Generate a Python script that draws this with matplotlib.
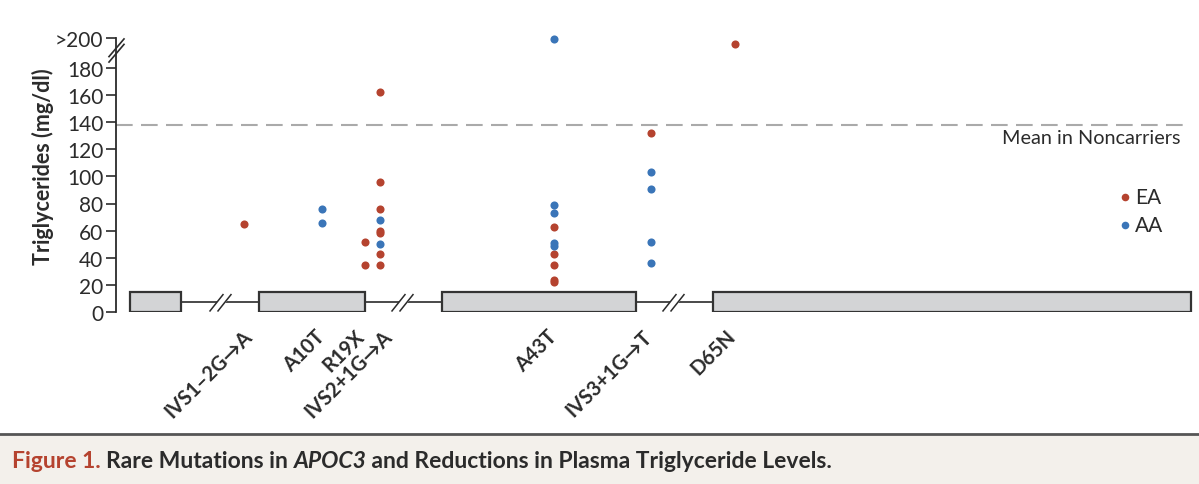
import matplotlib.pyplot as plt
from matplotlib.patches import Rectangle, Polygon

# mutations along the APOC3 gene drawing
mutations = ["IVS1–2G→A", "A10T", "R19X", "IVS2+1G→A", "A43T", "IVS3+1G→T", "D65N"]
mut_pos = [244, 322, 365, 380, 554, 651, 735]
label_pos = [256, 329, 368, 396, 561, 656, 739]
ea_values = [[65], [], [52, 35], [162, 96, 76, 60, 58, 43, 35],
             [63, 43, 35, 24, 22], [132], [197]]
aa_values = [[], [76, 66], [], [68, 50], [201, 79, 73, 51, 49],
             [103, 91, 52, 36], []]
exons = [(130, 181), (259, 365), (442, 636), (713, 1191)]
intron_breaks = [221, 403, 674]
mean_noncarriers = 138
yticks = [0, 20, 40, 60, 80, 100, 120, 140, 160, 180, 202]
ytick_labels = ["0", "20", "40", "60", "80", "100", "120", "140", "160", "180", ">200"]

RED = "#b5432f"
BLUE = "#3a75b8"
DARK = "#2b2b2b"
FONT = "Lato"

fig = plt.figure(figsize=(11.99, 4.85), dpi=100)
ax = fig.add_axes([116 / 1199, 171.7 / 485, 1 - 116 / 1199, 292.4 / 485])
ax.set_xlim(116, 1199)
ax.set_ylim(0, 215)
ax.patch.set_alpha(0)

for s in ["top", "right", "bottom"]:
    ax.spines[s].set_visible(False)
ax.spines["left"].set_bounds(0, 202)
ax.spines["left"].set_color(DARK)
ax.spines["left"].set_linewidth(1.3)
ax.set_xticks([])
ax.set_yticks(yticks)
ax.set_yticklabels(ytick_labels, fontsize=15, family=FONT, color=DARK)
ax.tick_params(axis="y", direction="out", length=7, width=1.2, color=DARK, pad=2)

# y axis break
for dy in (0, -4):
    ax.plot([109, 124], [188 + dy, 201 + dy], color=DARK, lw=1.2, clip_on=False, zorder=5)

ax.set_ylabel("Triglycerides (mg/dl)", fontsize=15.5, family=FONT, weight="bold",
              color=DARK, labelpad=1)

# gene structure: introns then exons
ax.plot([exons[0][0], exons[-1][1]], [7.5, 7.5], color=DARK, lw=1.2, zorder=1)
for c in intron_breaks:
    ax.add_patch(Polygon([(c - 11, 1), (c + 2, 13), (c + 11, 13), (c - 2, 1)],
                         closed=True, facecolor="white", edgecolor="none", zorder=2))
    for dx in (0, 8):
        ax.plot([c - 11 + dx, c + 2 + dx], [1, 13], color=DARK, lw=1.1, zorder=3)
for a, b in exons:
    ax.add_patch(Rectangle((a, 0), b - a, 15, facecolor="#d3d4d6", edgecolor="#333333",
                           lw=1.6, zorder=4))

# mean line
ax.plot([116, 1190], [mean_noncarriers] * 2, color="#aaaaaa", lw=1.5,
        dashes=(8, 4), zorder=1)
ax.text(1180, 128.5, "Mean in Noncarriers", ha="right", va="center", fontsize=14.3,
        family=FONT, color=DARK)

# carriers
for x, ea, aa in zip(mut_pos, ea_values, aa_values):
    ax.scatter([x] * len(ea), ea, s=34, color=RED, zorder=6, linewidths=0)
    ax.scatter([x] * len(aa), aa, s=34, color=BLUE, zorder=6, linewidths=0)

for lx, name in zip(label_pos, mutations):
    ax.text(lx, -10, name, rotation=45, ha="right", va="top", fontsize=14.5,
            family=FONT, weight="bold", color=DARK, clip_on=False)

# legend
ax.scatter([1125], [85], s=30, color=RED, linewidths=0, clip_on=False)
ax.scatter([1125], [64], s=30, color=BLUE, linewidths=0, clip_on=False)
ax.text(1135, 85, "EA", va="center", fontsize=15, family=FONT, color=DARK)
ax.text(1135, 64, "AA", va="center", fontsize=15, family=FONT, color=DARK)

# caption band
fig.patches.append(Rectangle((0, 0), 1, 49 / 485, transform=fig.transFigure,
                             facecolor="#f3f0eb", edgecolor="none", zorder=0))
fig.add_artist(plt.Line2D([0, 1], [50 / 485] * 2, transform=fig.transFigure,
                          color="#555555", lw=2))

pieces = [("Figure 1. ", RED, "normal"), ("Rare Mutations in ", DARK, "normal"),
          ("APOC3", DARK, "italic"), (" and Reductions in Plasma Triglyceride Levels.", DARK, "normal")]
fig.canvas.draw()
r = fig.canvas.get_renderer()
x = 12 / 1199
for txt, col, style in pieces:
    t = fig.text(x, 23 / 485, txt, fontsize=16.5, family=FONT, weight="bold", style=style,
                 color=col, va="center", ha="left")
    w = t.get_window_extent(renderer=r).width
    x += w / 1199

fig.savefig("out.png", dpi=100)
